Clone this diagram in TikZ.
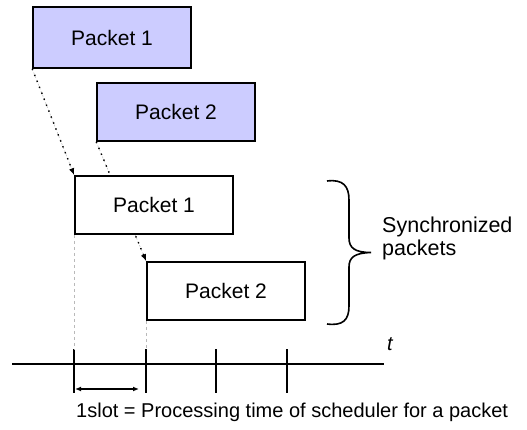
\documentclass[tikz,border=0pt]{standalone}
\usepackage{fontspec}
\setmainfont{Liberation Sans}
\usetikzlibrary{arrows.meta}
\definecolor{lavender}{HTML}{CCCCFF}
\pgfdeclarelayer{background}
\pgfsetlayers{background,main}
\begin{document}
\begin{tikzpicture}[x=1pt,y=-1pt,
  txt/.style={font=\fontsize{20}{23}\selectfont},
  pkt/.style={font=\fontsize{21}{24}\selectfont,draw=black,line width=1.6pt,
    minimum width=158pt,minimum height=58pt,inner sep=0pt},
  queued/.style={pkt,fill=lavender},
  synced/.style={pkt,fill=white},
  flow/.style={black,line width=1.4pt,dash pattern=on 1.4pt off 5pt,
    -{Latex[length=7pt,width=5.5pt]}},
  flowshade/.style={gray!45,dash pattern=on 2pt off 2pt,line width=0.6pt},
  guide/.style={gray!55,dashed,line width=0.5pt},
  heavy/.style={line width=1.6pt},
]
\useasboundingbox (0,0) rectangle (527,430);

% packets waiting for the scheduler
\node[queued,minimum height=61pt] (q1) at (112,37.5) {Packet 1};
\node[queued] (q2) at (176,112) {Packet 2};

% packets after synchronisation
\node[synced] (s1) at (154,205) {Packet 1};
\node[synced] (s2) at (226,291) {Packet 2};

% scheduling moves, kept behind the boxes
\begin{pgfonlayer}{background}
  \draw[flowshade,xshift=2.5pt] (q1.south west) -- (s1.north west);
  \draw[flowshade,xshift=2.5pt] (q2.south west) -- (s2.north west);
  \draw[flow] (q1.south west) -- (s1.north west);
  \draw[flow] (q2.south west) -- (s2.north west);
\end{pgfonlayer}

% time axis and slot boundaries
\coordinate (ax0) at (12,364);
\coordinate (ax1) at (384,364);
\draw[heavy] (ax0) -- (ax1);
\coordinate (k1) at (s1.south west |- 0,349);
\coordinate (k2) at (s2.south west |- 0,349);
\coordinate (k3) at (216,349);
\coordinate (k4) at (287,349);
\foreach \k in {k1,k2,k3,k4}
  \draw[heavy] (\k) -- ++(0,44);
\draw[guide] (s1.south west) -- (k1);
\draw[guide] (s2.south west) -- (k2);
\node[anchor=base,font=\fontsize{20}{23}\selectfont\itshape] (tl) at (390,350) {t};

% one slot
\coordinate (w0) at ([xshift=0.8pt]k1 |- 0,389);
\coordinate (w1) at (139,389);
\draw[line width=1.2pt,{Latex[length=6pt,width=5pt]}-{Latex[length=6pt,width=5pt]}] (w0) -- (w1);
\node[txt,anchor=base west,inner sep=0pt] (cap) at (76,417)
  {1slot = Processing time of scheduler for a packet};

% brace grouping the synchronised packets
\coordinate (bt) at (327,181);
\coordinate (bm) at (371,252.5);
\coordinate (bb) at (327,324);
\draw[heavy] (bt) .. controls (343,179) and (349,186) .. (349,200)
  -- (349,238) .. controls (349,248) and (355,252.5) .. (bm)
  .. controls (355,253) and (349,257) .. (349,267)
  -- (349,306) .. controls (349,320) and (343,326) .. (bb);
\node[font=\fontsize{21.5}{24}\selectfont,anchor=base west,inner sep=0pt,align=left]
  (grp) at (382,256) {Synchronized\\packets};
\end{tikzpicture}
\end{document}
